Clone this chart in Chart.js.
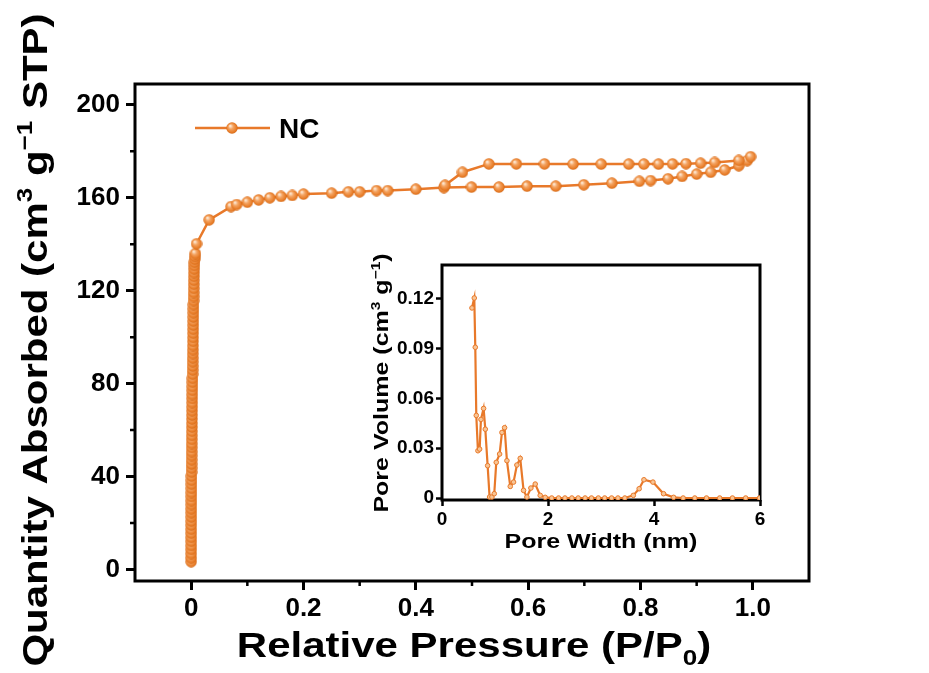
<!DOCTYPE html>
<html>
<head>
<meta charset="utf-8">
<script src="https://cdn.jsdelivr.net/npm/chart.js@4.4.1/dist/chart.umd.min.js"></script>
<style>
  body { margin: 0; background: #fff; }
  #wrap { position: relative; width: 929px; height: 673px; }
  #main { position: absolute; left: 0; top: 0; }
  #inset { position: absolute; left: 355px; top: 245px; }
</style>
</head>
<body>
<div id="wrap">
  <canvas id="main" width="929" height="673"></canvas>
  <canvas id="inset" width="425" height="320"></canvas>
</div>
<script>
// --- isotherm: low pressure column (adsorption)
const lowP = [
  0.00001, 0.00002, 0.00003, 0.00004, 0.00005, 0.00006, 0.00008, 0.0001, 0.00012, 0.00014,
  0.00016, 0.00018, 0.00021, 0.00024, 0.00027, 0.0003, 0.00034, 0.00038, 0.00042, 0.00046,
  0.0005, 0.00055, 0.0006, 0.00065, 0.0007, 0.00076, 0.00082, 0.00088, 0.00094, 0.001,
  0.00107, 0.00114, 0.00121, 0.00128, 0.00135, 0.00143, 0.00151, 0.00159, 0.00167, 0.00175,
  0.0018, 0.0019, 0.002, 0.0021, 0.0022, 0.0023, 0.0024, 0.0025, 0.0026, 0.0027,
  0.0028, 0.0029, 0.003, 0.0031, 0.0032, 0.0033, 0.0034, 0.0035, 0.0036, 0.0037,
  0.0038, 0.0039, 0.004, 0.0041, 0.0042, 0.0043, 0.0044, 0.0045, 0.0046, 0.0047,
  0.0049, 0.0051, 0.0053, 0.0056, 0.0059, 0.0063, 0.0068, 0.0075
];
const lowQ = [
  3.3, 5.0, 6.8, 8.6, 10.3, 12.1, 13.8, 15.6, 17.3, 19.1,
  20.8, 22.6, 24.4, 26.1, 27.9, 29.6, 31.4, 33.1, 34.9, 36.7,
  38.4, 40.2, 41.9, 43.7, 45.4, 47.2, 49.0, 50.7, 52.5, 54.2,
  56.0, 57.7, 59.5, 61.3, 63.0, 64.8, 66.5, 68.3, 70.0, 71.8,
  73.6, 75.3, 77.1, 78.8, 80.6, 82.3, 84.1, 85.9, 87.6, 89.4,
  91.1, 92.9, 94.6, 96.4, 98.2, 99.9, 101.7, 103.4, 105.2, 106.9,
  108.7, 110.5, 112.2, 114.0, 115.7, 117.5, 119.2, 121.0, 122.8, 124.5,
  126.2, 127.8, 129.4, 130.9, 132.3, 133.6, 134.8, 136.0
];
// adsorption, rest of the branch
const adsP = [0.0095, 0.032, 0.071, 0.081, 0.1, 0.12, 0.14, 0.16, 0.18, 0.2,
  0.25, 0.28, 0.3, 0.33, 0.35, 0.4, 0.45, 0.499, 0.548, 0.598,
  0.649, 0.699, 0.749, 0.798, 0.818, 0.849, 0.874, 0.9, 0.925, 0.95,
  0.975, 0.99, 0.996];
const adsQ = [140.2, 150.5, 156.2, 157.1, 158.1, 159.1, 160.0, 160.6, 161.0, 161.6,
  162.0, 162.6, 162.6, 163.1, 163.1, 163.7, 164.4, 164.6, 164.6, 165.0,
  165.0, 165.6, 166.3, 167.1, 167.4, 168.2, 169.2, 170.2, 171.0, 172.0,
  173.8, 176.0, 177.7];
// desorption branch
const desP = [0.975, 0.932, 0.907, 0.881, 0.857, 0.832, 0.806, 0.779, 0.73, 0.68, 0.629, 0.579, 0.53, 0.483, 0.452];
const desQ = [176.1, 175.2, 174.9, 174.7, 174.6, 174.5, 174.5, 174.5, 174.5, 174.5, 174.6, 174.6, 174.6, 171.0, 165.4];

const xTicks = [0, 0.2, 0.4, 0.6, 0.8, 1.0];
const xTickLabels = ['0', '0.2', '0.4', '0.6', '0.8', '1.0'];
const xMinor = [0.1, 0.3, 0.5, 0.7, 0.9];
const yTicks = [0, 40, 80, 120, 160, 200];
const yTickLabels = ['0', '40', '80', '120', '160', '200'];
const yMinor = [20, 60, 100, 140, 180];

// --- inset: pore size distribution
const poreW = [0.565, 0.609, 0.628, 0.647, 0.678, 0.71, 0.735, 0.785, 0.817, 0.861,
  0.898, 0.942, 0.986, 1.024, 1.087, 1.131, 1.181, 1.225, 1.288, 1.35,
  1.413, 1.476, 1.539, 1.602, 1.677, 1.759, 1.853, 1.947,
  2.07, 2.2, 2.32, 2.45, 2.57, 2.7, 2.82, 2.95, 3.07, 3.2, 3.32, 3.45,
  3.61, 3.72, 3.81, 3.98, 4.18, 4.37,
  4.55, 4.77, 4.99, 5.24, 5.48, 5.73, 5.99];
const poreV = [0.1146, 0.1206, 0.0909, 0.0498, 0.0285, 0.0295, 0.0474, 0.054, 0.0415, 0.0195,
  0.0006, 0.0006, 0.0026, 0.0215, 0.0265, 0.0395, 0.0424, 0.0225, 0.007, 0.0096,
  0.0199, 0.0239, 0.0046, 0.0006, 0.006, 0.0084, 0.0016, 0.0004,
  0, 0, 0, 0, 0, 0, 0, 0, 0, 0, 0, 0,
  0.0016, 0.0056, 0.011, 0.0096, 0.0026, 0.0004,
  0, 0, 0, 0, 0, 0, 0];
const insetXTicks = [0, 2, 4, 6];
const insetXLabels = ['0', '2', '4', '6'];
const insetYTicks = [0, 0.03, 0.06, 0.09, 0.12];
const insetYLabels = ['0', '0.03', '0.06', '0.09', '0.12'];

const seriesName = 'NC';
const FONT = '"Liberation Sans", Arial, Helvetica, sans-serif';
const ORANGE = '#e8792a';

// shaded ball marker
function makeBall(d) {
  const c = document.createElement('canvas');
  c.width = d; c.height = d;
  const g = c.getContext('2d');
  const r = d / 2;
  const grad = g.createRadialGradient(r - r * 0.3, r - r * 0.35, r * 0.1, r, r, r);
  grad.addColorStop(0, '#fde6cf');
  grad.addColorStop(0.35, '#f4a462');
  grad.addColorStop(0.8, '#e77b26');
  grad.addColorStop(1, '#cf6516');
  g.fillStyle = grad;
  g.beginPath(); g.arc(r, r, r - 0.3, 0, Math.PI * 2); g.fill();
  return c;
}
const ball = makeBall(12);

// rich text (super/subscripts), stretched a bit horizontally like the original
function drawRich(ctx, parts, cx, cy, size, angle, stretch) {
  ctx.save();
  ctx.translate(cx, cy);
  ctx.rotate(angle);
  ctx.scale(stretch, 1);
  let total = 0;
  parts.forEach(p => {
    ctx.font = `bold ${p.s ? size * 0.62 : size}px ${FONT}`;
    p.w = ctx.measureText(p.t).width;
    total += p.w;
  });
  let x = -total / 2;
  ctx.fillStyle = '#000';
  ctx.textBaseline = 'alphabetic';
  ctx.textAlign = 'left';
  parts.forEach(p => {
    ctx.font = `bold ${p.s ? size * 0.62 : size}px ${FONT}`;
    const dy = p.s === 'sup' ? -size * 0.42 : p.s === 'sub' ? size * 0.22 : 0;
    ctx.fillText(p.t, x, dy);
    x += p.w;
  });
  ctx.restore();
}

const framePlugin = (lw) => ({
  id: 'frame',
  beforeDatasetsDraw(chart) {
    const { ctx, chartArea: a } = chart;
    ctx.save();
    ctx.strokeStyle = '#000';
    ctx.lineWidth = lw;
    ctx.strokeRect(a.left, a.top, a.right - a.left, a.bottom - a.top);
    ctx.restore();
  }
});

const minorPlugin = (xs, ys, len, lw) => ({
  id: 'minor',
  afterDraw(chart) {
    const { ctx, chartArea: a, scales } = chart;
    ctx.save();
    ctx.strokeStyle = '#000';
    ctx.lineWidth = lw;
    ctx.beginPath();
    xs.forEach(v => {
      const px = scales.x.getPixelForValue(v);
      ctx.moveTo(px, a.bottom); ctx.lineTo(px, a.bottom + len);
    });
    ys.forEach(v => {
      const py = scales.y.getPixelForValue(v);
      ctx.moveTo(a.left, py); ctx.lineTo(a.left - len, py);
    });
    ctx.stroke();
    ctx.restore();
  }
});

const mainText = {
  id: 'mainText',
  afterDraw(chart) {
    const ctx = chart.ctx;
    drawRich(ctx, [{ t: 'Relative Pressure (P/P' }, { t: '0', s: 'sub' }, { t: ')' }], 474, 657, 35, 0, 1.2);
    drawRich(ctx, [{ t: 'Quantity Absorbed (cm' }, { t: '3', s: 'sup' }, { t: ' g' }, { t: '\u22121', s: 'sup' }, { t: ' STP)' }],
      47, 340, 35, -Math.PI / 2, 1.2);
    // legend
    const ds = chart.data.datasets[0];
    ctx.save();
    ctx.strokeStyle = ds.borderColor;
    ctx.lineWidth = ds.borderWidth;
    ctx.beginPath(); ctx.moveTo(195, 128); ctx.lineTo(270, 128); ctx.stroke();
    ctx.drawImage(ds.pointStyle, 232 - ball.width / 2, 128 - ball.height / 2);
    ctx.fillStyle = '#000';
    ctx.font = `bold 28px ${FONT}`;
    ctx.textBaseline = 'middle';
    ctx.fillText(ds.label, 279, 130);
    ctx.restore();
  }
};

const insetText = {
  id: 'insetText',
  afterDraw(chart) {
    const ctx = chart.ctx;
    drawRich(ctx, [{ t: 'Pore Width (nm)' }], 246, 303, 20, 0, 1.25);
    drawRich(ctx, [{ t: 'Pore Volume (cm' }, { t: '3', s: 'sup' }, { t: ' g' }, { t: '\u22121', s: 'sup' }, { t: ')' }],
      33, 138, 20, -Math.PI / 2, 1.25);
  }
};

const isoPoints = [];
lowP.forEach((p, i) => isoPoints.push({ x: p, y: lowQ[i] }));
adsP.forEach((p, i) => isoPoints.push({ x: p, y: adsQ[i] }));
desP.forEach((p, i) => isoPoints.push({ x: p, y: desQ[i] }));

const tickGrid = (len, w) => ({
  display: true, drawOnChartArea: false, drawTicks: true,
  tickLength: len, tickWidth: w, tickColor: '#000'
});

new Chart(document.getElementById('main').getContext('2d'), {
  type: 'scatter',
  data: {
    datasets: [{
      label: seriesName,
      data: isoPoints,
      showLine: true,
      borderColor: ORANGE,
      borderWidth: 2.5,
      pointStyle: ball,
      pointRadius: 6,
      tension: 0
    }]
  },
  options: {
    responsive: false,
    animation: false,
    devicePixelRatio: 1,
    events: [],
    layout: { padding: { top: 84, right: 120, left: 0, bottom: 0 } },
    plugins: { legend: { display: false }, tooltip: { enabled: false } },
    scales: {
      x: {
        type: 'linear', min: -0.1, max: 1.1,
        afterBuildTicks: s => { s.ticks = xTicks.map(v => ({ value: v })); },
        afterFit: s => { s.height = 92; },
        grid: tickGrid(9, 3),
        border: { display: false },
        ticks: {
          color: '#000', font: { family: FONT, size: 26, weight: 'bold' },
          padding: 3, maxRotation: 0, autoSkip: false,
          callback: (v, i) => xTickLabels[i]
        }
      },
      y: {
        type: 'linear', min: -5, max: 209,
        afterBuildTicks: s => { s.ticks = yTicks.map(v => ({ value: v })); },
        afterFit: s => { s.width = 135; },
        grid: tickGrid(9, 3),
        border: { display: false },
        ticks: {
          color: '#000', font: { family: FONT, size: 26, weight: 'bold' },
          padding: 6, autoSkip: false,
          callback: (v, i) => yTickLabels[i]
        }
      }
    }
  },
  plugins: [framePlugin(3), minorPlugin(xMinor, yMinor, 5, 2.5), mainText]
});

new Chart(document.getElementById('inset').getContext('2d'), {
  type: 'scatter',
  data: {
    datasets: [{
      label: 'PSD',
      data: poreW.map((w, i) => ({ x: w, y: poreV[i] })),
      showLine: true,
      borderColor: ORANGE,
      borderWidth: 2.2,
      pointStyle: 'circle',
      pointRadius: 2.3,
      pointBackgroundColor: '#f8c595',
      pointBorderColor: ORANGE,
      pointBorderWidth: 1,
      tension: 0
    }]
  },
  options: {
    responsive: false,
    animation: false,
    devicePixelRatio: 1,
    events: [],
    layout: { padding: { top: 20, right: 20, left: 0, bottom: 0 } },
    plugins: { legend: { display: false }, tooltip: { enabled: false } },
    scales: {
      x: {
        type: 'linear', min: 0, max: 6,
        afterBuildTicks: s => { s.ticks = insetXTicks.map(v => ({ value: v })); },
        afterFit: s => { s.height = 65; },
        grid: tickGrid(6, 2.5),
        border: { display: false },
        ticks: {
          color: '#000', font: { family: FONT, size: 19, weight: 'bold' },
          padding: 2, maxRotation: 0, autoSkip: false,
          callback: (v, i) => insetXLabels[i]
        }
      },
      y: {
        type: 'linear', min: -0.0012, max: 0.1405,
        afterBuildTicks: s => { s.ticks = insetYTicks.map(v => ({ value: v })); },
        afterFit: s => { s.width = 87; },
        grid: tickGrid(6, 2.5),
        border: { display: false },
        ticks: {
          color: '#000', font: { family: FONT, size: 19, weight: 'bold' },
          padding: 2, autoSkip: false,
          callback: (v, i) => insetYLabels[i]
        }
      }
    }
  },
  plugins: [framePlugin(3), insetText]
});
</script>
</body>
</html>
